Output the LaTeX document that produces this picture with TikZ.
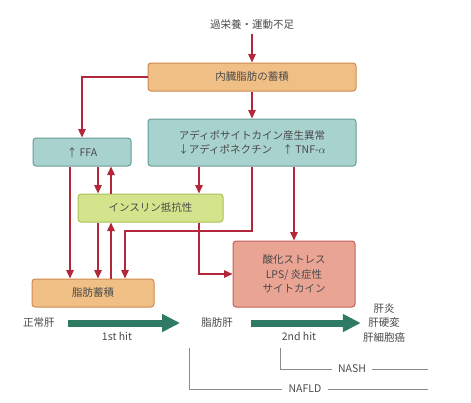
\documentclass[tikz,border=0pt]{standalone}
\usepackage{fontspec}
\setmainfont{Noto Sans CJK JP}
\usetikzlibrary{arrows.meta,calc}
\definecolor{txt}{HTML}{4A4A4A}
\definecolor{arrred}{HTML}{B2283A}
\definecolor{orfill}{HTML}{EFBF85}
\definecolor{ordraw}{HTML}{D08A4E}
\definecolor{tlfill}{HTML}{A8D2CE}
\definecolor{tldraw}{HTML}{6A9C98}
\definecolor{grfill}{HTML}{D4E48C}
\definecolor{grdraw}{HTML}{A9C35A}
\definecolor{rdfill}{HTML}{E9A494}
\definecolor{rddraw}{HTML}{C4605A}
\definecolor{bigarr}{HTML}{2F7A63}
\definecolor{brk}{HTML}{8A8A8A}
\tikzset{
  box/.style={draw, line width=1pt, rounded corners=3pt, align=center, text=txt,
    font=\fontsize{10.5pt}{14.5pt}\selectfont, inner sep=0pt},
  orbox/.style={box, fill=orfill, draw=ordraw},
  tlbox/.style={box, fill=tlfill, draw=tldraw},
  grbox/.style={box, fill=grfill, draw=grdraw},
  rdbox/.style={box, fill=rdfill, draw=rddraw},
  lbl/.style={text=txt, font=\fontsize{10.5pt}{14.5pt}\selectfont, align=center, inner sep=0pt},
  arr/.style={draw=arrred, line width=1.4pt, -{Triangle[width=7.5pt 0,length=8.5pt 0]}},
  fat/.style={draw=bigarr, line width=7pt, -{Triangle[width=17pt 0,length=18pt 0]}},
  br/.style={draw=brk, line width=0.7pt}
}
\begin{document}
\begin{tikzpicture}[x=1pt,y=-1pt]
\useasboundingbox[fill=white] (0,0) rectangle (471,402);
% nodes
\node[lbl] (title) at (252,25) {過栄養・運動不足};
\node[orbox, minimum width=208pt, minimum height=28pt] (ob) at (252,77) {内臓脂肪の蓄積};
\node[tlbox, minimum width=208pt, minimum height=47pt] (ad) at (252,142.5) {アディポサイトカイン産生異常\\↓アディポネクチン\quad ↑ TNF-$\alpha$};
\node[tlbox, minimum width=98pt, minimum height=28pt] (ffa) at (82,152) {↑ FFA};
\node[grbox, minimum width=145pt, minimum height=28pt] (ir) at (150.5,208) {インスリン抵抗性};
\node[orbox, minimum width=122pt, minimum height=28pt] (fa) at (93,293) {脂肪蓄積};
\node[rdbox, minimum width=122pt, minimum height=66pt] (ox) at (294,274) {酸化ストレス\\LPS/ 炎症性\\サイトカイン};
\node[lbl] (n1) at (39,323) {正常肝};
\node[lbl] (n2) at (217,323) {脂肪肝};
\node[lbl] (n3) at (384,323) {肝炎\\肝硬変\\肝細胞癌};
\node[lbl] (h1) at (117,336) {1st hit};
\node[lbl] (h2) at (299,336) {2nd hit};
\node[lbl] (nash) at (352,369) {NASH};
\node[lbl] (nafld) at (305,389) {NAFLD};
% helper coordinates
\coordinate (c70) at (70,0);
\coordinate (c98) at (98,0);
\coordinate (c111) at (111,0);
\coordinate (c125) at (125,0);
\coordinate (c199) at (199,0);
\coordinate (c252) at (252,0);
\coordinate (c294) at (294,0);
\coordinate (k1) at (252,231);
\coordinate (k2) at (125,231);
\coordinate (k3) at (199,274);
\coordinate (b1) at (280,348);
\coordinate (b2) at (428,369);
\coordinate (b3) at (189,348);
\coordinate (b4) at (428,389);
% red connectors
\draw[arr] (title.south) ++(0,4) -- (ob.north);
\draw[arr] (ob.west) -| (ffa.north);
\draw[arr] (ob.south) -- (ad.north);
\draw[arr] (ffa.south -| c70) -- (fa.north -| c70);
\draw[arr] (ffa.south -| c98) -- (ir.north -| c98);
\draw[arr] (ir.north -| c111) -- (ffa.south -| c111);
\draw[arr] (ad.south -| c199) -- (ir.north -| c199);
\draw[arr] (ir.south -| c98) -- (fa.north -| c98);
\draw[arr] (fa.north -| c111) -- (ir.south -| c111);
\draw[arr] (ad.south -| c252) -- (k1) -- (k2) -- (fa.north -| c125);
\draw[arr] (ir.south -| c199) -- (k3) -- (ox.west);
\draw[arr] (ad.south -| c294) -- (ox.north);
% big arrows
\draw[fat, shorten <=13pt, shorten >=21pt] (n1.east) -- (n2.west);
\draw[fat, shorten <=18pt, shorten >=2pt] (n2.east) -- (n3.west |- n2.east);
% brackets
\draw[br] (b1) |- ($(nash.west)+(-6,0)$);
\draw[br] ($(nash.east)+(6,0)$) -- (b2);
\draw[br] (b3) |- ($(nafld.west)+(-6,0)$);
\draw[br] ($(nafld.east)+(6,0)$) -- (b4);
\end{tikzpicture}
\end{document}
